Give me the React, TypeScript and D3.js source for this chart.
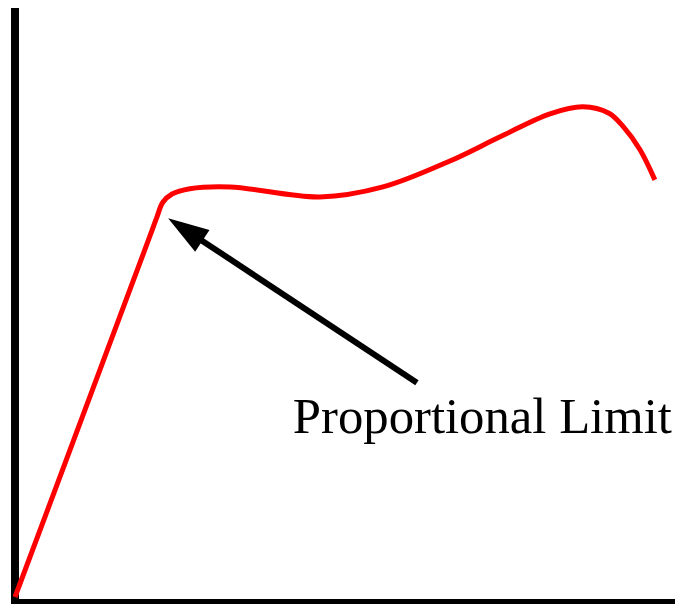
import React from "react";
import * as d3 from "d3";

// Stress–strain curve (arbitrary units)
const strain: number[] = [0, 2.12, 4.09, 4.3, 4.48, 4.76, 5.3, 6.52, 9.24, 11.15, 13.18, 14.7, 16.21, 17.21, 18.0, 18.42, 18.94, 19.39];
const stress: number[] = [0, 31.7, 61.2, 64.4, 66.9, 68.3, 69.2, 69.5, 67.8, 69.5, 73.9, 78.0, 81.9, 83.1, 82.0, 79.8, 75.8, 70.7];

// Annotation: arrow tip (proportional limit) and tail / label position
const annotationLabel = "Proportional Limit";
const arrowTip: [number, number] = [4.64, 64.2];
const arrowTail: [number, number] = [12.18, 36.3];
const labelPos: [number, number] = [8.42, 27.8];

const W = 675;
const H = 604;

export default function App() {
  const x = d3.scaleLinear().domain([0, 20]).range([15, 675]);
  const y = d3.scaleLinear().domain([0, 100]).range([597, 7]);

  const pts: [number, number][] = strain.map((s, i) => [s, stress[i]]);
  const line = d3
    .line<[number, number]>()
    .x((d) => x(d[0]))
    .y((d) => y(d[1]))
    .curve(d3.curveCatmullRom.alpha(0.5));

  // arrow geometry
  const tx = x(arrowTip[0]);
  const ty = y(arrowTip[1]);
  const sx = x(arrowTail[0]);
  const sy = y(arrowTail[1]);
  const ang = Math.atan2(ty - sy, tx - sx);
  const headLen = 41;
  const headHalf = 13;
  const bx = tx - headLen * Math.cos(ang);
  const by = ty - headLen * Math.sin(ang);
  const px = -Math.sin(ang);
  const py = Math.cos(ang);
  const head = `M${tx},${ty} L${bx + headHalf * px},${by + headHalf * py} L${bx - headHalf * px},${by - headHalf * py} Z`;

  return (
    <svg
      width={W}
      height={H}
      style={{ position: "absolute", left: 0, top: 0, background: "#fff" }}
    >
      <rect x={0} y={0} width={W} height={H} fill="#fff" />
      {/* axes */}
      <line x1={15} y1={8} x2={15} y2={607} stroke="#000" strokeWidth={8} />
      <line x1={11} y1={603} x2={675} y2={603} stroke="#000" strokeWidth={8} />
      {/* curve */}
      <path d={line(pts) || ""} fill="none" stroke="#ff0000" strokeWidth={5} strokeLinejoin="round" />
      {/* arrow */}
      <line x1={sx} y1={sy} x2={bx + 4 * Math.cos(ang)} y2={by + 4 * Math.sin(ang)} stroke="#000" strokeWidth={6} />
      <path d={head} fill="#000" />
      {/* label */}
      <text
        x={x(labelPos[0])}
        y={y(labelPos[1])}
        fontFamily="'Liberation Serif', 'DejaVu Serif', serif"
        fontSize={51}
        fill="#000"
        textLength={379}
        lengthAdjust="spacingAndGlyphs"
      >
        {annotationLabel}
      </text>
    </svg>
  );
}
